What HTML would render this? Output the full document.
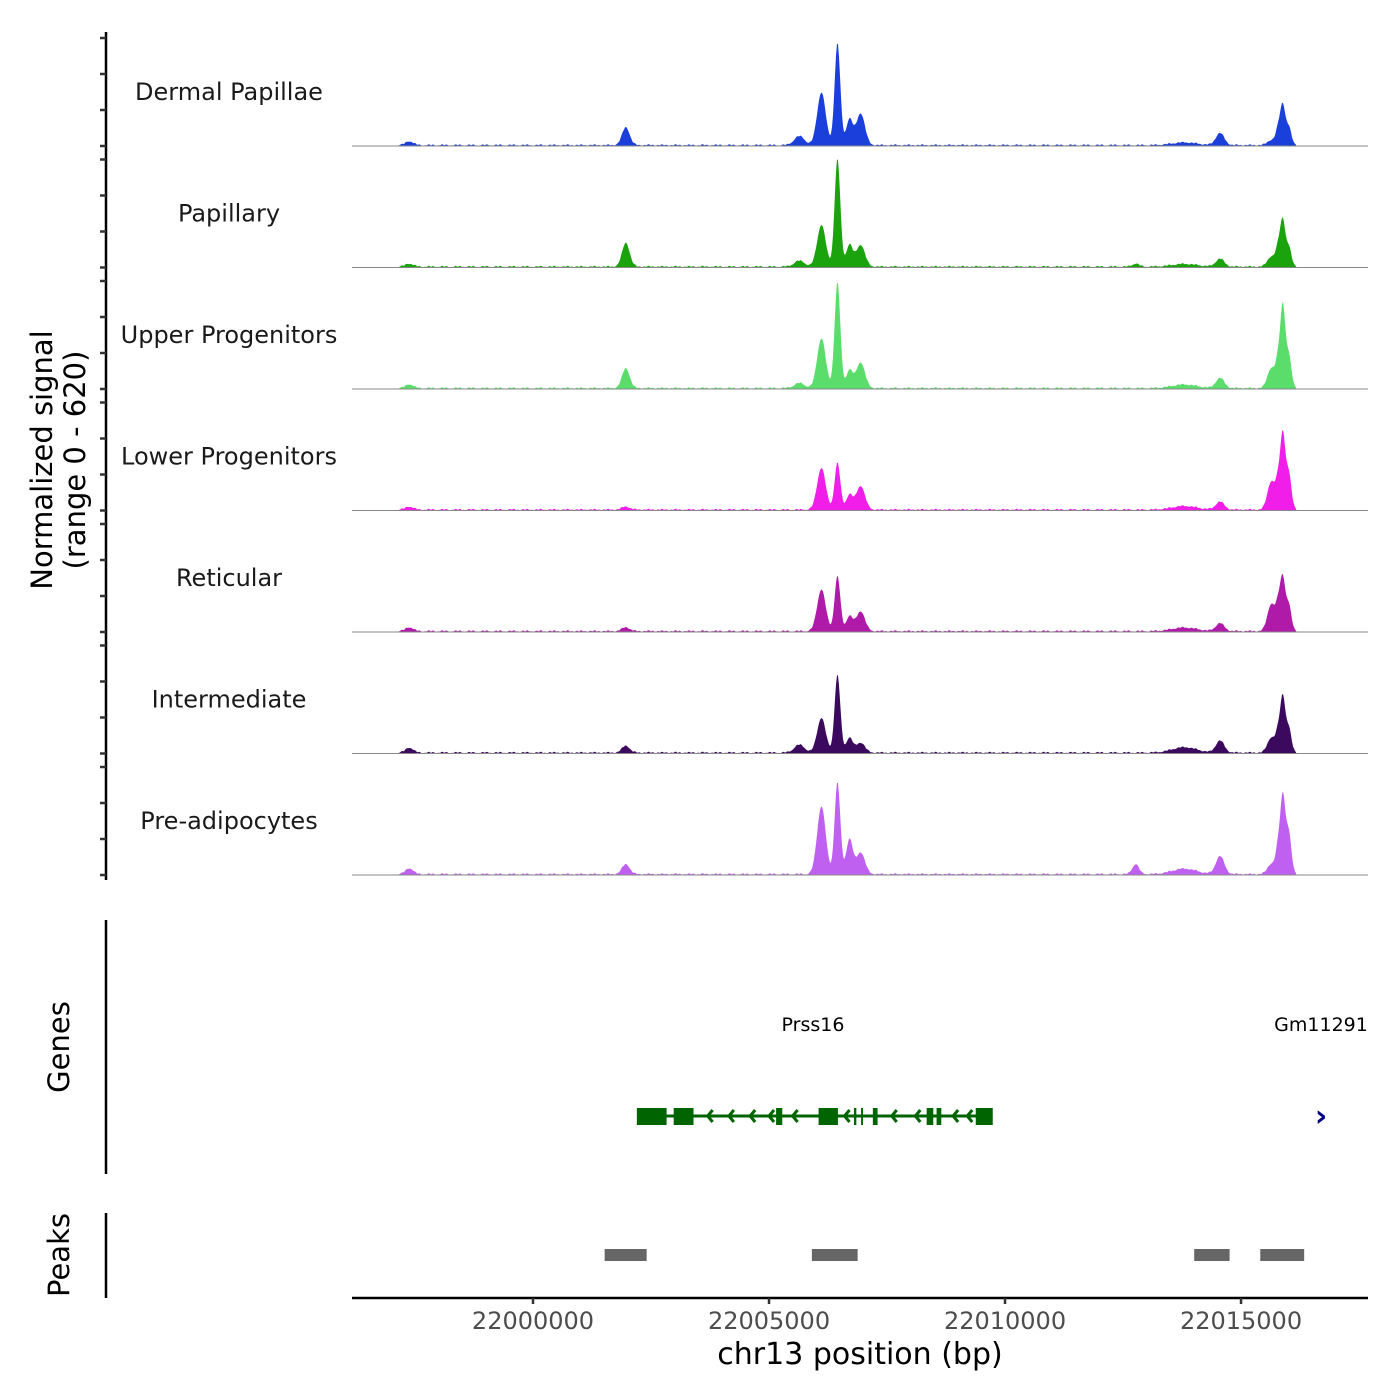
<!DOCTYPE html>
<html><head><meta charset="utf-8"><style>
body{margin:0;background:#fff}
svg{display:block;font-family:"DejaVu Sans","Liberation Sans",sans-serif}
</style></head><body>
<svg id="chart" width="1400" height="1400" viewBox="0 0 1400 1400" xmlns="http://www.w3.org/2000/svg">
<g id="tracks"></g>
<g id="yaxis"></g>
<text transform="translate(52,460) rotate(-90)" text-anchor="middle" font-size="29" fill="#000">Normalized signal</text>
<text transform="translate(85,460) rotate(-90)" text-anchor="middle" font-size="29" fill="#000">(range 0 - 620)</text>
<g>
<line x1="106" y1="920" x2="106" y2="1174" stroke="#000" stroke-width="2.5"/>
<text transform="translate(69,1047) rotate(-90)" text-anchor="middle" font-size="29">Genes</text>
<text x="813" y="1031" text-anchor="middle" font-size="19">Prss16</text>
<text x="1321" y="1031" text-anchor="middle" font-size="19">Gm11291</text>
<g id="gene"></g>
<text x="1321" y="1126" text-anchor="middle" font-size="30" font-weight="bold" fill="#00008b">›</text>
</g>
<g>
<line x1="106" y1="1213" x2="106" y2="1298" stroke="#000" stroke-width="2.5"/>
<text transform="translate(69,1255) rotate(-90)" text-anchor="middle" font-size="29">Peaks</text>
<g id="peaks"></g>
</g>
<g id="xaxis"></g>
<text x="860" y="1364" text-anchor="middle" font-size="30">chr13 position (bp)</text>
</svg>
<script>
const NS="http://www.w3.org/2000/svg";
const trackNames=["Dermal Papillae","Papillary","Upper Progenitors","Lower Progenitors","Reticular","Intermediate","Pre-adipocytes"];
const trackColors=["#1a3fdb","#1aa30c","#5bdd6b","#f01ee8","#b01aa8","#3b0a5e","#c060f0"];
const peakCenters=[21997380,22001967,22005644,22006110,22006450,22006704,22006940,22014555,22015640,22015810,22015890,22016000,22012767,22013800];
const peakWidths=[80,80,110,90,60,70,90,90,80,60,45,60,70,260];
const dermal=[22,100,50,294,567,144,178,67,28,120,167,110,0,15];
const papillary=[17,133,33,233,600,122,122,44,56,140,194,120,17,15];
const upper=[22,111,28,278,589,100,144,56,111,200,361,200,0,20];
const lower=[17,17,0,233,261,83,133,44,156,200,322,220,0,20];
const reticular=[22,22,0,233,306,83,111,44,150,180,211,160,0,20];
const intermediate=[28,39,44,194,433,83,56,67,83,150,239,150,0,30];
const preadipo=[33,56,0,378,511,194,122,100,56,200,333,250,56,30];
const trackValues=[dermal,papillary,upper,lower,reticular,intermediate,preadipo];
const regionStart=21996165, regionEnd=22017690, covStart=21997150, covEnd=22016170;
const xLeft=352, xRight=1368;
const xs=bp=>xLeft+(bp-regionStart)/(regionEnd-regionStart)*(xRight-xLeft);
const pxPerBp=(xRight-xLeft)/(regionEnd-regionStart);
const yScale=0.18, trackTop0=146, trackStride=121.5;
const yTicks=[0,200,400,600];
const tg=document.getElementById('tracks'), ya=document.getElementById('yaxis');
function mk(tag,attrs,parent){const e=document.createElementNS(NS,tag);for(const k in attrs)e.setAttribute(k,attrs[k]);parent.appendChild(e);return e;}
const yl=mk('line',{x1:106,y1:32,x2:106,y2:880,stroke:'#000','stroke-width':2.5},ya);


trackNames.forEach((name,i)=>{
  const base=trackTop0+trackStride*i;
  const vals=trackValues[i];
  const g=mk('g',{},tg);
  
  
  let d='M'+xs(covStart).toFixed(1)+','+base;
  for(let x=Math.ceil(xs(covStart));x<=xs(covEnd);x++){
    const bp=regionStart+(x-xLeft)/pxPerBp;
    let v=2;
    peakCenters.forEach((c,j)=>{const z=(bp-c)/peakWidths[j];v+=vals[j]*Math.exp(-z*z/2);});
    v+=8*Math.abs(Math.sin(x*0.7))*Math.abs(Math.sin(x*0.23));
    v=Math.min(v,620);
    d+=' L'+x+','+(base-v*yScale).toFixed(1);
  }
  d+=' L'+xs(covEnd).toFixed(1)+','+base+' Z';
  const p=mk('path',{d:d,fill:trackColors[i]},g);
  
  
  const bl=mk('line',{x1:xLeft,y1:base,x2:xRight,y2:base,stroke:'#888','stroke-width':1},g);
  
  
  const t=mk('text',{x:229,y:base-46,'text-anchor':'middle','font-size':24,fill:'#1a1a1a'},g);
  t.textContent=name;
  
  
  yTicks.forEach(v=>{
    const tk=mk('line',{x1:100,x2:106,y1:base-v*yScale,y2:base-v*yScale,stroke:'#333','stroke-width':2.5},ya);
    
    
  });
});
const geneStart=22002240, geneEnd=22009720;
const exonStarts=[22002200,22002980,22005150,22006050,22006800,22006950,22007200,22008340,22008550,22009380];
const exonEnds=[22002830,22003400,22005280,22006460,22006850,22006990,22007300,22008480,22008650,22009740];
const arrowPos=[22003700,22004150,22004600,22005000,22005500,22006600,22007600,22008100,22008900,22009200];
const gg=document.getElementById('gene');
const gl=mk('line',{x1:xs(geneStart),x2:xs(geneEnd),y1:1116,y2:1116,stroke:'#006400','stroke-width':3},gg);


exonStarts.forEach((s,i)=>{
  const r=mk('rect',{x:xs(s),y:1108,width:xs(exonEnds[i])-xs(s),height:17,fill:'#006400'},gg);
  
  
});
arrowPos.forEach(a=>{
  const x=xs(a);
  const pl=mk('polyline',{points:(x+5)+',1110 '+x+',1116 '+(x+5)+',1122',fill:'none',stroke:'#006400','stroke-width':3},gg);
  
  
});
const peakStarts=[22001560,22005950,22014050,22015450];
const peakEnds=[22002450,22006920,22014800,22016380];
const pg=document.getElementById('peaks');
peakStarts.forEach((s,i)=>{
  const r=mk('rect',{x:xs(s)-2,y:1249,width:xs(peakEnds[i])-xs(s),height:12,fill:'#666'},pg);
  
  
});
const xTicks=[22000000,22005000,22010000,22015000];
const xa=document.getElementById('xaxis');
const al=mk('line',{x1:xLeft,x2:xRight,y1:1298,y2:1298,stroke:'#000','stroke-width':2.5},xa);


xTicks.forEach(v=>{
  const tk=mk('line',{x1:xs(v),x2:xs(v),y1:1298,y2:1304,stroke:'#333','stroke-width':2.5},xa);
  
  
  const t=mk('text',{x:xs(v),y:1329,'text-anchor':'middle','font-size':24,fill:'#4d4d4d'},xa);
  t.textContent=v;
  
  
});
</script>
</body></html>
